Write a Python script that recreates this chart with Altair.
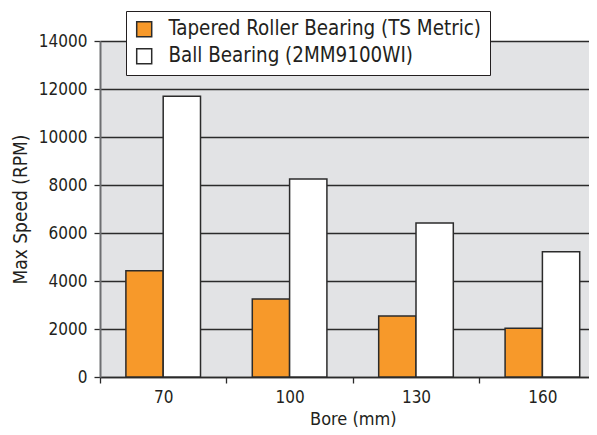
import altair as alt
import pandas as pd

bores = ["70", "100", "130", "160"]
series = ["Tapered Roller Bearing (TS Metric)", "Ball Bearing (2MM9100WI)"]
tapered = [4430, 3250, 2540, 2030]
ball = [11700, 8250, 6420, 5220]
colors = ["#f7992a", "#ffffff"]
y_ticks = [0, 2000, 4000, 6000, 8000, 10000, 12000, 14000]

rows = []
for b, t, w in zip(bores, tapered, ball):
    rows.append({"bore": b, "series": series[0], "speed": t})
    rows.append({"bore": b, "series": series[1], "speed": w})
df = pd.DataFrame(rows)

FONT = "Liberation Sans Narrow, DejaVu Sans Condensed, Arial Narrow, sans-serif"
TXT = "#231f20"

chart = alt.Chart(df).mark_bar(stroke="#2b2b2b", strokeWidth=1.5).encode(
    x=alt.X("bore:N", sort=bores, title="Bore (mm)",
            scale=alt.Scale(range=[0, 505.6], paddingInner=0, paddingOuter=0),
            axis=alt.Axis(labelAngle=0, tickBand="extent", tickSize=6,
                          tickColor="#2b2b2b", tickWidth=1.3,
                          domainColor="#2b2b2b", domainWidth=1.5,
                          labelFontSize=17, labelPadding=6, titleFontSize=18,
                          titlePadding=5, labelColor=TXT, titleColor=TXT,
                          titleFontWeight="normal", labelFont=FONT, titleFont=FONT)),
    xOffset=alt.XOffset("series:N", sort=series,
                        scale=alt.Scale(paddingInner=0, paddingOuter=0.694)),
    y=alt.Y("speed:Q", title="Max Speed (RPM)",
            scale=alt.Scale(domain=[0, 14000], nice=False),
            axis=alt.Axis(values=y_ticks, format="d", grid=True, gridColor="#2b2b2b",
                          gridWidth=1.3, tickSize=6, tickColor="#2b2b2b", tickWidth=1.3,
                          domainColor="#6d6e71", domainWidth=2, labelFontSize=17,
                          labelPadding=7, titleFontSize=19, titlePadding=8,
                          labelColor=TXT, titleColor=TXT, titleFontWeight="normal",
                          labelFont=FONT, titleFont=FONT)),
    color=alt.Color("series:N", sort=series,
                    scale=alt.Scale(domain=series, range=colors),
                    legend=alt.Legend(title=None, orient="none", legendX=26, legendY=-30,
                                      fillColor="white", strokeColor=TXT, padding=8,
                                      symbolType="square", symbolSize=225,
                                      symbolStrokeColor="#2b2b2b", symbolStrokeWidth=1.5,
                                      symbolOpacity=1, labelFontSize=20.4, labelFont=FONT,
                                      labelColor=TXT, labelLimit=500, labelOffset=14,
                                      rowPadding=5)),
).properties(
    width=489, height=336,
    autosize=alt.AutoSizeParams(type="none"),
    padding={"left": 92, "top": 33, "right": 0, "bottom": 50},
).configure_view(fill="#e2e3e5", stroke=None)

chart.save("out.html", embed_options={"renderer": "svg", "actions": False})
